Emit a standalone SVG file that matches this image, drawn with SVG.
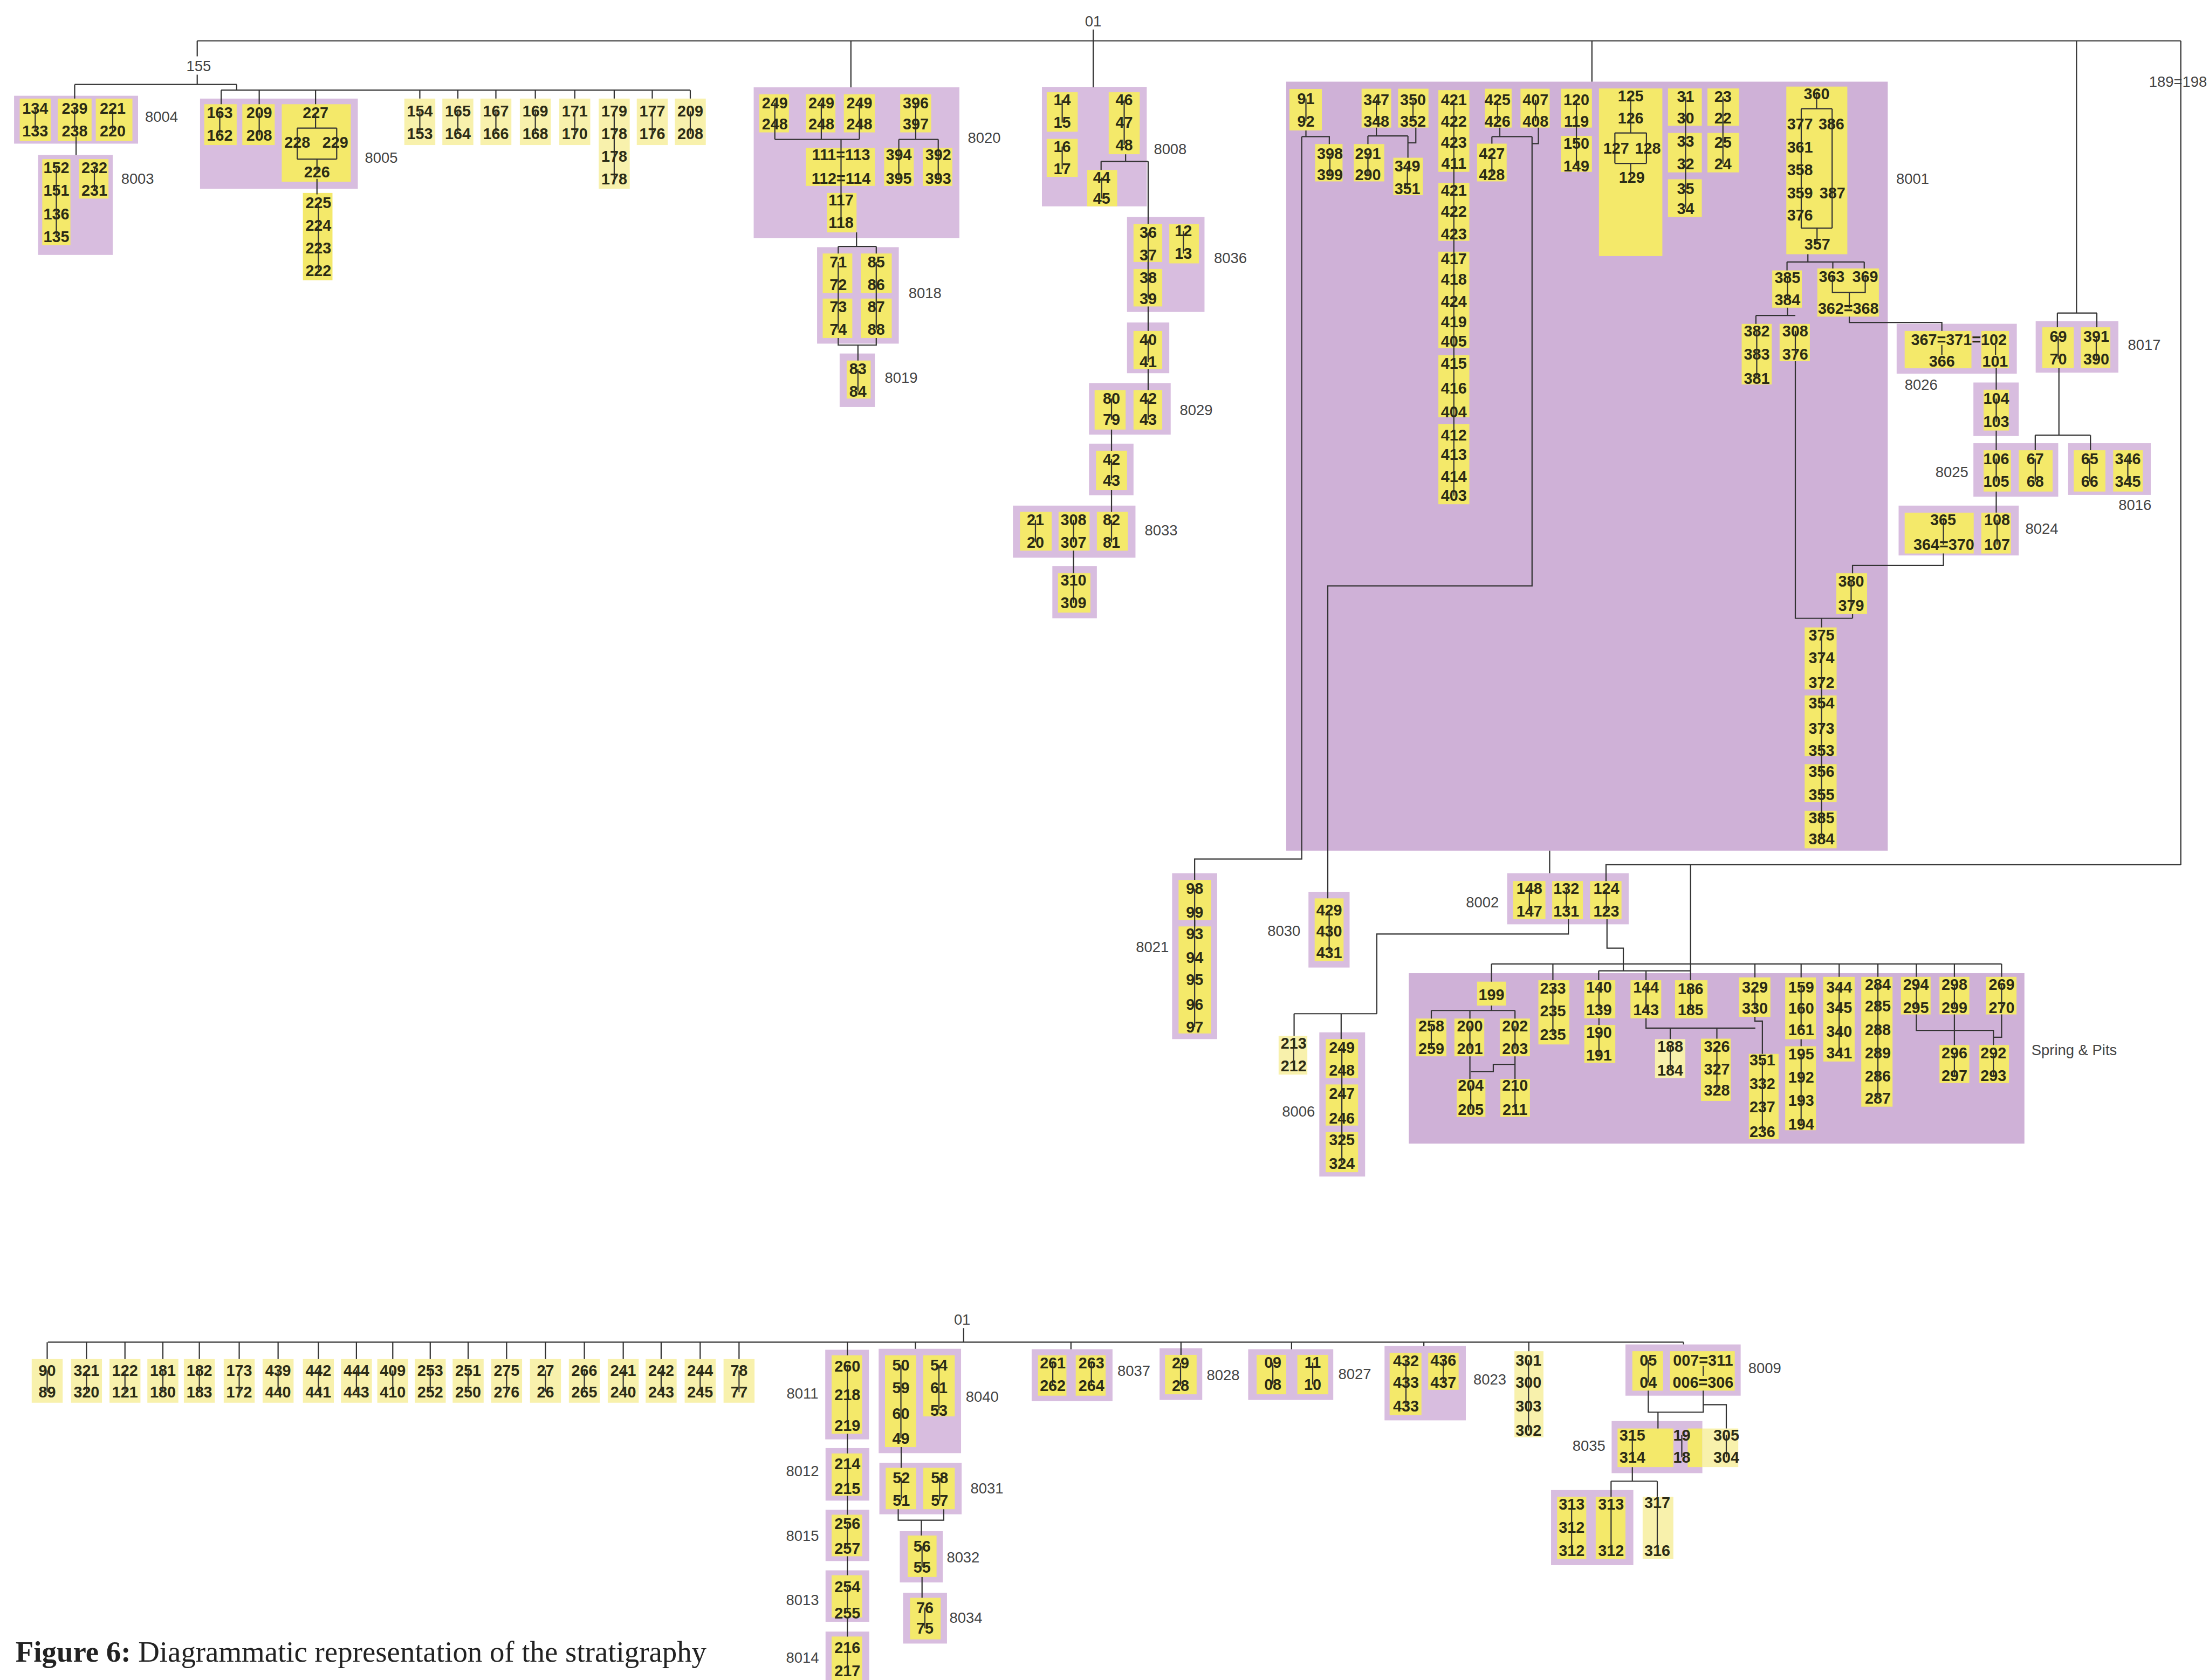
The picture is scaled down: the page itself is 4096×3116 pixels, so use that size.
<svg xmlns="http://www.w3.org/2000/svg" width="4096" height="3116" viewBox="0 0 4096 3116">
<style>
text{font-family:"Liberation Sans",Arial,sans-serif;font-size:11px;font-weight:bold;fill:#2b2b16;text-anchor:middle;dominant-baseline:central}
.l{font-weight:normal;fill:#444;font-size:10.5px;text-anchor:start}
.lm{font-weight:normal;fill:#444;font-size:10.5px}
.p{fill:#d8bddf}
.pb{fill:#cfb1d7}
.y{fill:#f4e96a}
.q{fill:#f8f1ac}
.k,.c{fill:none;stroke:#333;stroke-width:0.85}
.cap{font-family:"Liberation Serif","Times New Roman",serif;font-size:21px;font-weight:normal;text-anchor:start;dominant-baseline:auto;fill:#222}
</style>
<rect width="4096" height="3116" fill="#fff"/>
<g transform="scale(2.6122)">
<g id="h01"><text class="lm" x="776" y="15">01</text></g>
<g id="h155"><text class="lm" x="141" y="47">155</text></g>
<g id="n8004"><rect class="p" x="10" y="68" width="88" height="34"/><rect class="y" x="14" y="70" width="22" height="30"/><rect class="y" x="41" y="70" width="24" height="30"/><rect class="y" x="68" y="70" width="26" height="30"/><path class="k" d="M25 77V93M53 77V93M80 77V93"/><text x="25" y="77">134</text><text x="25" y="93">133</text><text x="53" y="77">239</text><text x="53" y="93">238</text><text x="80" y="77">221</text><text x="80" y="93">220</text><text class="l" x="103" y="83">8004</text></g>
<g id="n8003"><rect class="p" x="27" y="110" width="53" height="71"/><rect class="y" x="30" y="113" width="20" height="61"/><rect class="y" x="56" y="113" width="21" height="28"/><path class="k" d="M40 119V168M67 119V135"/><text x="40" y="119">152</text><text x="40" y="135">151</text><text x="40" y="152">136</text><text x="40" y="168">135</text><text x="67" y="119">232</text><text x="67" y="135">231</text><text class="l" x="86" y="127">8003</text></g>
<g id="n8005"><rect class="p" x="142" y="70" width="112" height="64"/><rect class="y" x="145" y="74" width="23" height="29"/><rect class="y" x="172" y="74" width="23" height="29"/><rect class="y" x="200" y="74" width="49" height="55"/><path class="k" d="M156 80V96M184 80V96M224 80V91M211 91H239M211 91V113M239 91V113M211 113H239M225 113V122"/><text x="156" y="80">163</text><text x="156" y="96">162</text><text x="184" y="80">209</text><text x="184" y="96">208</text><text x="224" y="80">227</text><text x="211" y="101">228</text><text x="238" y="101">229</text><text x="225" y="122">226</text><text class="l" x="259" y="112">8005</text></g>
<g id="c225"><rect class="y" x="215" y="137" width="21" height="62"/><path class="k" d="M226 144V192"/><text x="226" y="144">225</text><text x="226" y="160">224</text><text x="226" y="176">223</text><text x="226" y="192">222</text></g>
<g id="u154"><rect class="q" x="287" y="70" width="22" height="33"/><path class="k" d="M298 79V95"/><text x="298" y="79">154</text><text x="298" y="95">153</text></g>
<g id="u165"><rect class="q" x="314" y="70" width="22" height="33"/><path class="k" d="M325 79V95"/><text x="325" y="79">165</text><text x="325" y="95">164</text></g>
<g id="u167"><rect class="q" x="341" y="70" width="22" height="33"/><path class="k" d="M352 79V95"/><text x="352" y="79">167</text><text x="352" y="95">166</text></g>
<g id="u169"><rect class="q" x="369" y="70" width="22" height="33"/><path class="k" d="M380 79V95"/><text x="380" y="79">169</text><text x="380" y="95">168</text></g>
<g id="u171"><rect class="q" x="397" y="70" width="22" height="33"/><path class="k" d="M408 79V95"/><text x="408" y="79">171</text><text x="408" y="95">170</text></g>
<g id="u179"><rect class="q" x="425" y="70" width="22" height="64"/><path class="k" d="M436 79V127"/><text x="436" y="79">179</text><text x="436" y="95">178</text><text x="436" y="111">178</text><text x="436" y="127">178</text></g>
<g id="u177"><rect class="q" x="452" y="70" width="22" height="33"/><path class="k" d="M463 79V95"/><text x="463" y="79">177</text><text x="463" y="95">176</text></g>
<g id="u209"><rect class="q" x="479" y="70" width="22" height="33"/><path class="k" d="M490 79V95"/><text x="490" y="79">209</text><text x="490" y="95">208</text></g>
<g id="n8020"><rect class="p" x="535" y="62" width="146" height="107"/><rect class="y" x="539" y="67" width="21" height="27"/><rect class="y" x="572" y="67" width="21" height="27"/><rect class="y" x="599" y="67" width="22" height="27"/><rect class="y" x="639" y="67" width="22" height="27"/><rect class="y" x="572" y="105" width="49" height="27"/><rect class="y" x="627.6" y="105" width="21" height="27"/><rect class="y" x="655" y="105" width="21" height="27"/><rect class="y" x="587" y="137" width="21" height="28"/><path class="k" d="M550 73V99M583 73V99M610 73V99M550 99H610M597 99V158M650 73V99M638 99H666M638 99V126.7M666 99V126.7"/><text x="550" y="73">249</text><text x="550" y="88">248</text><text x="583" y="73">249</text><text x="583" y="88">248</text><text x="610" y="73">249</text><text x="610" y="88">248</text><text x="650" y="73">396</text><text x="650" y="88">397</text><text x="597" y="110">111=113</text><text x="597" y="126.7">112=114</text><text x="638" y="110">394</text><text x="638" y="126.7">395</text><text x="666" y="110">392</text><text x="666" y="126.7">393</text><text x="597" y="142">117</text><text x="597" y="158">118</text><text class="l" x="687" y="98">8020</text></g>
<g id="n8018"><rect class="p" x="580" y="175.5" width="58" height="68.5"/><rect class="y" x="584" y="180" width="21" height="28"/><rect class="y" x="584" y="212" width="21" height="28"/><rect class="y" x="611" y="180" width="22" height="28"/><rect class="y" x="611" y="212" width="22" height="28"/><path class="k" d="M595 186V234M622 186V234"/><text x="595" y="186">71</text><text x="595" y="202">72</text><text x="595" y="218">73</text><text x="595" y="234">74</text><text x="622" y="186">85</text><text x="622" y="202">86</text><text x="622" y="218">87</text><text x="622" y="234">88</text><text class="l" x="645" y="208">8018</text></g>
<g id="n8019"><rect class="p" x="596" y="251" width="25" height="38"/><rect class="y" x="601" y="256" width="17" height="27"/><path class="k" d="M609 262V278"/><text x="609" y="262">83</text><text x="609" y="278">84</text><text class="l" x="628" y="268">8019</text></g>
<g id="n8008"><rect class="p" x="739.6" y="61.7" width="74.4" height="84.8"/><rect class="y" x="743" y="65.5" width="22" height="28"/><rect class="y" x="743" y="98.6" width="22" height="27"/><rect class="y" x="787" y="65.5" width="22" height="44"/><rect class="y" x="771.7" y="120.7" width="21.3" height="25.8"/><path class="k" d="M754 71V87M754 104V120M798 71V103M782 126V141"/><text x="754" y="71">14</text><text x="754" y="87">15</text><text x="754" y="104">16</text><text x="754" y="120">17</text><text x="798" y="71">46</text><text x="798" y="87">47</text><text x="798" y="103">48</text><text x="782" y="126">44</text><text x="782" y="141">45</text><text class="l" x="819" y="106">8008</text></g>
<g id="n8036"><rect class="p" x="800" y="154" width="55" height="67.5"/><rect class="y" x="804.6" y="159" width="20.4" height="27"/><rect class="y" x="804.6" y="191" width="20.4" height="26.6"/><rect class="y" x="830" y="159" width="21" height="28"/><path class="k" d="M815 165V212M840 164V180"/><text x="815" y="165">36</text><text x="815" y="181">37</text><text x="815" y="197">38</text><text x="815" y="212">39</text><text x="840" y="164">12</text><text x="840" y="180">13</text><text class="l" x="861.7" y="183">8036</text></g>
<g id="n40"><rect class="p" x="800" y="229" width="30" height="36"/><rect class="y" x="804.6" y="235" width="20.4" height="27"/><path class="k" d="M815 241V257"/><text x="815" y="241">40</text><text x="815" y="257">41</text></g>
<g id="n8029"><rect class="p" x="773" y="272" width="58" height="36.6"/><rect class="y" x="777" y="277" width="22" height="28"/><rect class="y" x="804.6" y="277" width="20.4" height="28"/><path class="k" d="M789 283V298M815 283V298"/><text x="789" y="283">80</text><text x="789" y="298">79</text><text x="815" y="283">42</text><text x="815" y="298">43</text><text class="l" x="837.4" y="291">8029</text></g>
<g id="n42b"><rect class="p" x="773" y="315" width="31.6" height="36.6"/><rect class="y" x="778" y="320" width="22" height="28"/><path class="k" d="M789 326V341"/><text x="789" y="326">42</text><text x="789" y="341">43</text></g>
<g id="n8033"><rect class="p" x="719" y="359" width="87" height="37"/><rect class="y" x="724" y="363.4" width="22.5" height="27.6"/><rect class="y" x="751.4" y="363.4" width="22" height="27.6"/><rect class="y" x="778.6" y="363.4" width="22" height="27.6"/><path class="k" d="M735 369V385M762 369V385M789 369V385"/><text x="735" y="369">21</text><text x="735" y="385">20</text><text x="762" y="369">308</text><text x="762" y="385">307</text><text x="789" y="369">82</text><text x="789" y="385">81</text><text class="l" x="812.5" y="376.6">8033</text></g>
<g id="n310"><rect class="p" x="747" y="402" width="31.6" height="37"/><rect class="y" x="751" y="407" width="23" height="28"/><path class="k" d="M762 412V428"/><text x="762" y="412">310</text><text x="762" y="428">309</text></g>
<g id="n8001"><rect class="pb" x="913" y="58" width="427" height="546"/><text class="l" x="1346" y="127">8001</text>
<rect class="y" x="915.3" y="63.2" width="23" height="29.4"/><rect class="y" x="933.5" y="102.3" width="19.5" height="26.5"/><rect class="y" x="966.5" y="63" width="21" height="27.6"/><rect class="y" x="992.4" y="63" width="21.6" height="27.6"/><rect class="y" x="961" y="102.3" width="21.6" height="26.5"/><rect class="y" x="989" y="112" width="21" height="26.6"/>
<rect class="y" x="1021" y="64" width="22" height="58"/><rect class="y" x="1021" y="129.8" width="22" height="41.2"/><rect class="y" x="1021" y="178.7" width="22" height="68.6"/><rect class="y" x="1021" y="252.2" width="22" height="44.1"/><rect class="y" x="1021" y="301" width="22" height="57"/>
<rect class="y" x="1054" y="63" width="19" height="27.6"/><rect class="y" x="1079.3" y="63" width="20.7" height="27.6"/><rect class="y" x="1048.5" y="102" width="21" height="26.8"/><rect class="y" x="1108" y="63" width="22" height="27.6"/><rect class="y" x="1108" y="96.5" width="22" height="25.5"/>
<rect class="y" x="1135" y="62.8" width="45" height="119"/><rect class="y" x="1184" y="62.8" width="24" height="26.5"/><rect class="y" x="1184" y="94.4" width="24" height="28"/><rect class="y" x="1184" y="127.3" width="24" height="26.7"/><rect class="y" x="1212" y="62.8" width="22.4" height="26.5"/><rect class="y" x="1212" y="94.4" width="22.4" height="28"/>
<rect class="y" x="1268" y="61.5" width="43.3" height="119"/><rect class="y" x="1258" y="192" width="21" height="26.5"/><rect class="y" x="1290" y="190.6" width="43.7" height="34.2"/><rect class="y" x="1236.3" y="230" width="21.3" height="43"/><rect class="y" x="1263.2" y="230" width="21.5" height="26.5"/><rect class="y" x="1303.5" y="407" width="21.8" height="29"/>
<rect class="y" x="1281" y="445.5" width="22.7" height="44"/><rect class="y" x="1281" y="493.8" width="22.7" height="43"/><rect class="y" x="1281" y="542.6" width="22.7" height="27"/><rect class="y" x="1281" y="575.7" width="22.7" height="26.6"/>
<path class="k" d="M927 70V86M944 109V124M977 71V86M1003 71V86M971 109V124M999 118V134M1032 71V352M1063 71V86M1090 71V86M1059 109V124M1119 71V118M1157.5 68V94.4M1146.3 94.4H1168.7M1146.3 94.4V116M1168.7 94.4V116M1146.3 116H1168.7M1157.5 116V126M1196.5 68.6V148.3M1223 68.6V116.4M1289.5 66.6V77.2M1278.6 77.2H1300.5M1278.6 77.2V162M1300.5 77.2V162M1278.6 162H1300.5M1289.8 162V173.4M1268.8 197V213M1300.7 196.4V207.6H1324V196.4M1312.7 207.6V219M1247 235V268.6M1274.4 235V251.4M1314 412.6V430M1293 451V595.7"/>
<text x="927" y="70">91</text><text x="927" y="86">92</text><text x="944" y="109">398</text><text x="944" y="124">399</text><text x="977" y="71">347</text><text x="977" y="86">348</text><text x="1003" y="71">350</text><text x="1003" y="86">352</text><text x="971" y="109">291</text><text x="971" y="124">290</text><text x="999" y="118">349</text><text x="999" y="134">351</text>
<text x="1032" y="71">421</text><text x="1032" y="86">422</text><text x="1032" y="101">423</text><text x="1032" y="116">411</text><text x="1032" y="135">421</text><text x="1032" y="150">422</text><text x="1032" y="166">423</text><text x="1032" y="183.6">417</text><text x="1032" y="198.3">418</text><text x="1032" y="214">424</text><text x="1032" y="228.7">419</text><text x="1032" y="242.4">405</text><text x="1032" y="258">415</text><text x="1032" y="275.7">416</text><text x="1032" y="292.4">404</text><text x="1032" y="309">412</text><text x="1032" y="322.7">413</text><text x="1032" y="338.4">414</text><text x="1032" y="352">403</text>
<text x="1063" y="71">425</text><text x="1063" y="86">426</text><text x="1090" y="71">407</text><text x="1090" y="86">408</text><text x="1059" y="109">427</text><text x="1059" y="124">428</text><text x="1119" y="71">120</text><text x="1119" y="86">119</text><text x="1119" y="102">150</text><text x="1119" y="118">149</text>
<text x="1157.5" y="68">125</text><text x="1157.5" y="84">126</text><text x="1147.2" y="105.3">127</text><text x="1169.7" y="105.3">128</text><text x="1158.3" y="126">129</text>
<text x="1196.5" y="68.6">31</text><text x="1196.5" y="83.8">30</text><text x="1196.5" y="100.2">33</text><text x="1196.5" y="116.4">32</text><text x="1196.5" y="134">35</text><text x="1196.5" y="148.3">34</text><text x="1223" y="68.6">23</text><text x="1223" y="83.8">22</text><text x="1223" y="101.2">25</text><text x="1223" y="116.4">24</text>
<text x="1289.5" y="66.6">360</text><text x="1277.7" y="88">377</text><text x="1300" y="88">386</text><text x="1277.7" y="104.5">361</text><text x="1277.7" y="120.5">358</text><text x="1277.7" y="137">359</text><text x="1300.7" y="137">387</text><text x="1277.7" y="152.6">376</text><text x="1290" y="173.4">357</text>
<text x="1268.8" y="197">385</text><text x="1268.8" y="213">384</text><text x="1300.2" y="196.4">363</text><text x="1324" y="196.4">369</text><text x="1312" y="219">362=368</text>
<text x="1247" y="235">382</text><text x="1247" y="251.4">383</text><text x="1247" y="268.6">381</text><text x="1274.3" y="235">308</text><text x="1274.3" y="251.4">376</text>
<text x="1314" y="412.6">380</text><text x="1314" y="430">379</text>
<text x="1293" y="451">375</text><text x="1293" y="467">374</text><text x="1293" y="484.5">372</text><text x="1293" y="499.2">354</text><text x="1293" y="517">373</text><text x="1293" y="532.8">353</text><text x="1293" y="548">356</text><text x="1293" y="564.3">355</text><text x="1293" y="580.6">385</text><text x="1293" y="595.7">384</text></g>
<g id="n8026"><rect class="p" x="1346.3" y="229.9" width="85.3" height="35.4"/><rect class="y" x="1352" y="235" width="47.4" height="26.5"/><rect class="y" x="1406.4" y="235" width="19.6" height="26.5"/><path class="k" d="M1378.4 245V252M1416.5 245V252"/><text x="1390.5" y="241">367=371=102</text><text x="1378.4" y="256.5">366</text><text x="1416.2" y="256.5">101</text><text class="l" x="1352" y="273">8026</text></g>
<g id="n104"><rect class="p" x="1400.8" y="271.6" width="32.2" height="38"/><rect class="y" x="1408" y="276.7" width="18" height="29"/><path class="k" d="M1417 283V299.5"/><text x="1417" y="283">104</text><text x="1417" y="299.5">103</text></g>
<g id="n8025"><rect class="p" x="1400.8" y="314.7" width="60.2" height="38"/><rect class="y" x="1408" y="319.7" width="19.4" height="29.3"/><rect class="y" x="1433" y="319.7" width="24" height="29.3"/><path class="k" d="M1417 325.6V342M1444.7 325.6V342"/><text x="1417" y="325.6">106</text><text x="1417" y="342">105</text><text x="1444.7" y="325.6">67</text><text x="1444.7" y="342">68</text><text class="lm" x="1385.5" y="335">8025</text></g>
<g id="n8016"><rect class="p" x="1468" y="314.7" width="58.7" height="36.7"/><rect class="y" x="1472" y="319.7" width="22.5" height="29.3"/><rect class="y" x="1500" y="319.7" width="21" height="29.3"/><path class="k" d="M1483.3 325.6V342M1510.4 325.6V342"/><text x="1483.3" y="325.6">65</text><text x="1483.3" y="342">66</text><text x="1510.4" y="325.6">346</text><text x="1510.4" y="342">345</text><text class="lm" x="1515.5" y="358.5">8016</text></g>
<g id="n8017"><rect class="p" x="1445" y="228" width="58.7" height="36.6"/><rect class="y" x="1449.7" y="232.4" width="22.3" height="29"/><rect class="y" x="1477" y="232.4" width="21" height="29"/><path class="k" d="M1461 238.7V255M1488 238.7V255"/><text x="1461" y="238.7">69</text><text x="1461" y="255">70</text><text x="1488" y="238.7">391</text><text x="1488" y="255">390</text><text class="l" x="1510.4" y="245">8017</text></g>
<g id="n8024"><rect class="p" x="1347.7" y="359" width="85.3" height="35.4"/><rect class="y" x="1352" y="364" width="49" height="29"/><rect class="y" x="1406.4" y="364" width="21" height="29"/><path class="k" d="M1379.5 369V386.8M1417.6 369V386.8"/><text x="1379.3" y="369">365</text><text x="1379.8" y="386.8">364=370</text><text x="1417.6" y="369">108</text><text x="1417.6" y="386.8">107</text><text class="l" x="1437.7" y="375.5">8024</text></g>
<g id="h189"><text class="lm" x="1546" y="58">189=198</text></g>
<g id="n8021"><rect class="p" x="832" y="620" width="32" height="117.8"/><rect class="y" x="836.6" y="624.8" width="23.1" height="28.4"/><rect class="y" x="836.6" y="657.8" width="23.1" height="76"/><path class="k" d="M848 631V729.3"/><text x="848" y="631">98</text><text x="848" y="647.8">99</text><text x="848" y="663.2">93</text><text x="848" y="680">94</text><text x="848" y="695.5">95</text><text x="848" y="713.2">96</text><text x="848" y="729.3">97</text><text class="lm" x="818" y="672.4">8021</text></g>
<g id="n8030"><rect class="p" x="928.8" y="633.2" width="29.2" height="53.8"/><rect class="y" x="933.2" y="637.9" width="20.5" height="44.5"/><path class="k" d="M943.5 646.3V676.3"/><text x="943.5" y="646.3">429</text><text x="943.5" y="661">430</text><text x="943.5" y="676.3">431</text><text class="lm" x="911.4" y="661">8030</text></g>
<g id="n8002"><rect class="p" x="1069.8" y="620" width="86.3" height="36.3"/><rect class="y" x="1074" y="625.6" width="23" height="27"/><rect class="y" x="1101.8" y="625.6" width="21.8" height="27"/><rect class="y" x="1128.7" y="625.6" width="22.3" height="27"/><path class="k" d="M1085.6 631V647M1111.8 631V647M1140.2 631V647"/><text x="1085.6" y="631">148</text><text x="1085.6" y="647">147</text><text x="1111.8" y="631">132</text><text x="1111.8" y="647">131</text><text x="1140.2" y="631">124</text><text x="1140.2" y="647">123</text><text class="lm" x="1052.3" y="640.5">8002</text></g>
<g id="n213"><rect class="q" x="907.6" y="735.5" width="20.4" height="27.5"/><path class="k" d="M918.3 740.8V757"/><text x="918.3" y="740.8">213</text><text x="918.3" y="757">212</text></g>
<g id="n8006"><rect class="p" x="936.5" y="733" width="32.5" height="102.4"/><rect class="y" x="941" y="737.8" width="23" height="27.6"/><rect class="y" x="941" y="770" width="23" height="29.2"/><rect class="y" x="941" y="803.8" width="23" height="28.5"/><path class="k" d="M952.5 744V826"/><text x="952.5" y="744">249</text><text x="952.5" y="760">248</text><text x="952.5" y="776.2">247</text><text x="952.5" y="793.9">246</text><text x="952.5" y="809.2">325</text><text x="952.5" y="826">324</text><text class="lm" x="921.7" y="789.3">8006</text></g>
<g id="nSpring"><rect class="pb" x="1000" y="691" width="437" height="121"/>
<rect class="y" x="1048.5" y="697" width="20.5" height="17"/><rect class="y" x="1005" y="723.2" width="21.7" height="26.8"/><rect class="y" x="1032.4" y="723.2" width="21.2" height="26.8"/><rect class="y" x="1064.6" y="723.2" width="21.4" height="26.8"/><rect class="y" x="1034" y="766.2" width="20.4" height="26.8"/><rect class="y" x="1065" y="766.2" width="21" height="26.8"/><rect class="y" x="1092" y="696" width="22" height="45.6"/><rect class="y" x="1124.6" y="696" width="22" height="27"/><rect class="y" x="1124.6" y="727.8" width="22" height="26.9"/><rect class="y" x="1157.4" y="696" width="21.8" height="27"/><rect class="q" x="1174.8" y="737.8" width="21.5" height="27.6"/><rect class="y" x="1189" y="696" width="23" height="27"/><rect class="y" x="1207.4" y="737.5" width="21.1" height="44.2"/><rect class="y" x="1234.4" y="694" width="22.3" height="28"/><rect class="y" x="1241.4" y="748.3" width="21.1" height="60.6"/><rect class="y" x="1267.2" y="694" width="21.8" height="43.9"/><rect class="y" x="1267.2" y="742.9" width="21.8" height="59.6"/><rect class="y" x="1294.2" y="693.6" width="22.3" height="60.1"/><rect class="y" x="1321.2" y="693.6" width="22.2" height="92.2"/><rect class="y" x="1349.3" y="693.6" width="21.1" height="26.7"/><rect class="y" x="1376.7" y="693.6" width="21.2" height="26.7"/><rect class="y" x="1409.6" y="693.6" width="21.8" height="26.7"/><rect class="y" x="1376.7" y="742" width="21.2" height="27"/><rect class="y" x="1405" y="742" width="21" height="27"/>
<path class="k" d="M1016 728.5V744.7M1043.4 728.5V744.7M1075.4 728.5V744.7M1044 770.8V787.7M1075.4 770.8V787.7M1102.3 701.6V734.7M1135 700.9V717M1135 733V749.3M1168.4 700.9V717M1185.6 743V760M1200 702V717M1218.7 743V774M1245.7 700.8V715.8M1251 752.8V803.4M1278.5 700.8V731.1M1278.5 748.3V798M1305.5 700.8V747.8M1333 699V779.9M1360.3 699V715.3M1387.3 699V715.3M1420.8 699V715.3M1387.3 747.8V763.7M1415 747.8V763.7"/>
<text x="1058.7" y="706.3">199</text><text x="1016" y="728.5">258</text><text x="1016" y="744.7">259</text><text x="1043.4" y="728.5">200</text><text x="1043.4" y="744.7">201</text><text x="1075.4" y="728.5">202</text><text x="1075.4" y="744.7">203</text><text x="1044" y="770.8">204</text><text x="1044" y="787.7">205</text><text x="1075.4" y="770.8">210</text><text x="1075.4" y="787.7">211</text>
<text x="1102.3" y="701.6">233</text><text x="1102.3" y="717.8">235</text><text x="1102.3" y="734.7">235</text><text x="1135" y="700.9">140</text><text x="1135" y="717">139</text><text x="1135" y="733">190</text><text x="1135" y="749.3">191</text><text x="1168.4" y="700.9">144</text><text x="1168.4" y="717">143</text><text x="1185.6" y="743">188</text><text x="1185.6" y="760">184</text><text x="1200" y="702">186</text><text x="1200" y="717">185</text>
<text x="1218.7" y="743">326</text><text x="1218.7" y="759.2">327</text><text x="1218.7" y="774">328</text><text x="1245.7" y="700.8">329</text><text x="1245.7" y="715.8">330</text><text x="1251" y="752.8">351</text><text x="1251" y="769.5">332</text><text x="1251" y="785.8">237</text><text x="1251" y="803.4">236</text>
<text x="1278.5" y="700.8">159</text><text x="1278.5" y="715.8">160</text><text x="1278.5" y="731.1">161</text><text x="1278.5" y="748.3">195</text><text x="1278.5" y="765">192</text><text x="1278.5" y="781.3">193</text><text x="1278.5" y="798">194</text>
<text x="1305.5" y="700.8">344</text><text x="1305.5" y="715.3">345</text><text x="1305.5" y="732.5">340</text><text x="1305.5" y="747.8">341</text><text x="1333" y="699">284</text><text x="1333" y="714.4">285</text><text x="1333" y="731.1">288</text><text x="1333" y="747.8">289</text><text x="1333" y="764.1">286</text><text x="1333" y="779.9">287</text>
<text x="1360" y="699">294</text><text x="1360" y="715.3">295</text><text x="1387.3" y="699">298</text><text x="1387.3" y="715.3">299</text><text x="1420.8" y="699">269</text><text x="1420.8" y="715.3">270</text><text x="1387.3" y="747.8">296</text><text x="1387.3" y="763.7">297</text><text x="1415" y="747.8">292</text><text x="1415" y="763.7">293</text>
<text class="l" x="1442" y="745.6">Spring &amp; Pits</text></g>
<g id="h01b"><text class="lm" x="683" y="937">01</text></g>
<g id="b90"><rect class="q" x="22.5" y="965" width="22" height="31"/><path class="k" d="M33.5 973V988.5"/><text x="33.5" y="973">90</text><text x="33.5" y="988.5">89</text></g>
<g id="b321"><rect class="q" x="50.4" y="965" width="22" height="31"/><path class="k" d="M61.4 973V988.5"/><text x="61.4" y="973">321</text><text x="61.4" y="988.5">320</text></g>
<g id="b122"><rect class="q" x="77.7" y="965" width="22" height="31"/><path class="k" d="M88.7 973V988.5"/><text x="88.7" y="973">122</text><text x="88.7" y="988.5">121</text></g>
<g id="b181"><rect class="q" x="104.6" y="965" width="22" height="31"/><path class="k" d="M115.6 973V988.5"/><text x="115.6" y="973">181</text><text x="115.6" y="988.5">180</text></g>
<g id="b182"><rect class="q" x="130.5" y="965" width="22" height="31"/><path class="k" d="M141.5 973V988.5"/><text x="141.5" y="973">182</text><text x="141.5" y="988.5">183</text></g>
<g id="b173"><rect class="q" x="158.8" y="965" width="22" height="31"/><path class="k" d="M169.8 973V988.5"/><text x="169.8" y="973">173</text><text x="169.8" y="988.5">172</text></g>
<g id="b439"><rect class="q" x="186.4" y="965" width="22" height="31"/><path class="k" d="M197.4 973V988.5"/><text x="197.4" y="973">439</text><text x="197.4" y="988.5">440</text></g>
<g id="b442"><rect class="q" x="215" y="965" width="22" height="31"/><path class="k" d="M226 973V988.5"/><text x="226" y="973">442</text><text x="226" y="988.5">441</text></g>
<g id="b444"><rect class="q" x="242" y="965" width="22" height="31"/><path class="k" d="M253 973V988.5"/><text x="253" y="973">444</text><text x="253" y="988.5">443</text></g>
<g id="b409"><rect class="q" x="267.8" y="965" width="22" height="31"/><path class="k" d="M278.8 973V988.5"/><text x="278.8" y="973">409</text><text x="278.8" y="988.5">410</text></g>
<g id="b253"><rect class="q" x="294.4" y="965" width="22" height="31"/><path class="k" d="M305.4 973V988.5"/><text x="305.4" y="973">253</text><text x="305.4" y="988.5">252</text></g>
<g id="b251"><rect class="q" x="321.3" y="965" width="22" height="31"/><path class="k" d="M332.3 973V988.5"/><text x="332.3" y="973">251</text><text x="332.3" y="988.5">250</text></g>
<g id="b275"><rect class="q" x="348.6" y="965" width="22" height="31"/><path class="k" d="M359.6 973V988.5"/><text x="359.6" y="973">275</text><text x="359.6" y="988.5">276</text></g>
<g id="b27"><rect class="q" x="376.2" y="965" width="22" height="31"/><path class="k" d="M387.2 973V988.5"/><text x="387.2" y="973">27</text><text x="387.2" y="988.5">26</text></g>
<g id="b266"><rect class="q" x="403.8" y="965" width="22" height="31"/><path class="k" d="M414.8 973V988.5"/><text x="414.8" y="973">266</text><text x="414.8" y="988.5">265</text></g>
<g id="b241"><rect class="q" x="431.4" y="965" width="22" height="31"/><path class="k" d="M442.4 973V988.5"/><text x="442.4" y="973">241</text><text x="442.4" y="988.5">240</text></g>
<g id="b242"><rect class="q" x="458.3" y="965" width="22" height="31"/><path class="k" d="M469.3 973V988.5"/><text x="469.3" y="973">242</text><text x="469.3" y="988.5">243</text></g>
<g id="b244"><rect class="q" x="486" y="965" width="22" height="31"/><path class="k" d="M497 973V988.5"/><text x="497" y="973">244</text><text x="497" y="988.5">245</text></g>
<g id="b78"><rect class="q" x="513.6" y="965" width="22" height="31"/><path class="k" d="M524.6 973V988.5"/><text x="524.6" y="973">78</text><text x="524.6" y="988.5">77</text></g>
<g id="n8011"><rect class="p" x="585.8" y="958.4" width="31" height="63.6"/><rect class="y" x="590.3" y="962.3" width="21.7" height="55.7"/><path class="k" d="M601.5 970V1012"/><text x="601.5" y="970">260</text><text x="601.5" y="990.2">218</text><text x="601.5" y="1012">219</text><text class="lm" x="569.6" y="989.5">8011</text></g>
<g id="n8012"><rect class="p" x="586" y="1028.2" width="31" height="37.3"/><rect class="y" x="590.3" y="1032" width="21.7" height="30"/><path class="k" d="M601.5 1039.5V1057"/><text x="601.5" y="1039.5">214</text><text x="601.5" y="1057">215</text><text class="lm" x="569.6" y="1044.5">8012</text></g>
<g id="n8015"><rect class="p" x="586" y="1072" width="31" height="36.4"/><rect class="y" x="590.3" y="1075.5" width="21.7" height="29.5"/><path class="k" d="M601.5 1081.7V1099.6"/><text x="601.5" y="1081.7">256</text><text x="601.5" y="1099.6">257</text><text class="lm" x="569.6" y="1090.3">8015</text></g>
<g id="n8013"><rect class="p" x="586" y="1115" width="31" height="36.5"/><rect class="y" x="590.3" y="1118.5" width="21.7" height="30"/><path class="k" d="M601.5 1126.7V1145.3"/><text x="601.5" y="1126.7">254</text><text x="601.5" y="1145.3">255</text><text class="lm" x="569.6" y="1136">8013</text></g>
<g id="n8014"><rect class="p" x="586" y="1158.5" width="31" height="34.5"/><rect class="y" x="590.3" y="1162" width="21.7" height="31"/><path class="k" d="M601.5 1169.8V1186.4"/><text x="601.5" y="1169.8">216</text><text x="601.5" y="1186.4">217</text><text class="lm" x="569.6" y="1176.8">8014</text></g>
<g id="n8040"><rect class="p" x="623.7" y="957.7" width="58.5" height="74.1"/><rect class="y" x="628.2" y="962.3" width="22.1" height="65.2"/><rect class="y" x="655.4" y="962.3" width="22.3" height="43.4"/><path class="k" d="M639.5 969.3V1021.3M666.5 969.3V1001.4"/><text x="639.5" y="969.3">50</text><text x="639.5" y="985.3">59</text><text x="639.5" y="1003.9">60</text><text x="639.5" y="1021.3">49</text><text x="666.5" y="969.3">54</text><text x="666.5" y="985.3">61</text><text x="666.5" y="1001.4">53</text><text class="l" x="685.5" y="991.8">8040</text></g>
<g id="n8031"><rect class="p" x="624.2" y="1038.6" width="58.4" height="36.6"/><rect class="y" x="628.7" y="1042.2" width="21.6" height="29.4"/><rect class="y" x="655.4" y="1042.2" width="22.3" height="29.4"/><path class="k" d="M639.8 1049.2V1065.5M667 1049.2V1065.5"/><text x="639.8" y="1049.2">52</text><text x="639.8" y="1065.5">51</text><text x="667" y="1049.2">58</text><text x="667" y="1065.5">57</text><text class="l" x="688.9" y="1056.9">8031</text></g>
<g id="n8032"><rect class="p" x="638.7" y="1087.2" width="30.5" height="36.4"/><rect class="y" x="644.3" y="1090.3" width="20.5" height="29.4"/><path class="k" d="M654.5 1098V1112.8"/><text x="654.5" y="1098">56</text><text x="654.5" y="1112.8">55</text><text class="l" x="672" y="1105.8">8032</text></g>
<g id="n8034"><rect class="p" x="641" y="1131" width="31.2" height="36"/><rect class="y" x="646" y="1134.5" width="21.7" height="29.5"/><path class="k" d="M656.5 1141.4V1156.2"/><text x="656.5" y="1141.4">76</text><text x="656.5" y="1156.2">75</text><text class="l" x="674" y="1148.7">8034</text></g>
<g id="n8037"><rect class="p" x="732.3" y="958" width="57.4" height="36.9"/><rect class="y" x="736.8" y="962.3" width="20.2" height="28.7"/><rect class="y" x="763.6" y="962.3" width="21.2" height="28.7"/><path class="k" d="M747.3 967.7V984M774.7 967.7V984"/><text x="747.3" y="967.7">261</text><text x="747.3" y="984">262</text><text x="774.7" y="967.7">263</text><text x="774.7" y="984">264</text><text class="l" x="793.2" y="973.2">8037</text></g>
<g id="n8028"><rect class="p" x="823.1" y="957.3" width="30.3" height="36.7"/><rect class="y" x="827" y="962" width="22.4" height="28"/><path class="k" d="M838 967.7V984"/><text x="838" y="967.7">29</text><text x="838" y="984">28</text><text class="l" x="856.6" y="976.3">8028</text></g>
<g id="n8027"><rect class="p" x="886" y="958" width="60.4" height="36"/><rect class="y" x="892" y="962" width="21" height="28"/><rect class="y" x="920.9" y="962" width="21.9" height="28"/><path class="k" d="M903.5 967.5V983M931.8 967.5V983"/><text x="903.5" y="967.5">09</text><text x="903.5" y="983">08</text><text x="931.8" y="967.5">11</text><text x="931.8" y="983">10</text><text class="l" x="950" y="975.7">8027</text></g>
<g id="n8023"><rect class="p" x="982.8" y="955.7" width="57.7" height="52.8"/><rect class="y" x="986.4" y="960.5" width="22.6" height="44.3"/><rect class="y" x="1013.8" y="960.5" width="21.6" height="26.3"/><path class="k" d="M998 966.3V998.4M1024.5 965.7V981.6"/><text x="998" y="966.3">432</text><text x="998" y="981.6">433</text><text x="998" y="998.4">433</text><text x="1024.5" y="965.7">436</text><text x="1024.5" y="981.6">437</text><text class="l" x="1045.9" y="979.4">8023</text></g>
<g id="n301"><rect class="q" x="1075" y="959.4" width="20.6" height="61.2"/><path class="k" d="M1085 965.7V1015.8"/><text x="1085" y="965.7">301</text><text x="1085" y="981.6">300</text><text x="1085" y="998.4">303</text><text x="1085" y="1015.8">302</text></g>
<g id="n8009"><rect class="p" x="1153.8" y="954.6" width="81.8" height="36.4"/><rect class="y" x="1158.7" y="959.4" width="21.8" height="28"/><rect class="y" x="1185.4" y="959.4" width="46" height="28"/><path class="k" d="M1170 965.7V981.6M1209 970V977"/><text x="1170" y="965.7">05</text><text x="1170" y="981.6">04</text><text x="1208.9" y="965.7">007=311</text><text x="1208.9" y="981.6">006=306</text><text class="l" x="1241" y="971.5">8009</text></g>
<g id="n8035"><rect class="p" x="1144" y="1009" width="64.4" height="37"/><rect class="y" x="1148.2" y="1014.3" width="39.6" height="27.4"/><rect class="y" x="1198" y="1014.3" width="10.4" height="27.4"/><rect class="q" x="1208.4" y="1014.3" width="25.5" height="27.4"/><path class="k" d="M1158.7 1019V1034.8M1193.8 1019V1034.8M1225.4 1019V1034.8"/><text x="1158.7" y="1019">315</text><text x="1158.7" y="1034.8">314</text><text x="1193.8" y="1019">19</text><text x="1193.8" y="1034.8">18</text><text x="1225.4" y="1019">305</text><text x="1225.4" y="1034.8">304</text><text class="l" x="1116.2" y="1026.4">8035</text></g>
<g id="n313"><rect class="p" x="1101" y="1058" width="58.4" height="53.3"/><rect class="y" x="1105.3" y="1062.8" width="20.7" height="44.2"/><rect class="y" x="1132.7" y="1062.8" width="21.1" height="44.2"/><rect class="q" x="1166" y="1062.8" width="21.8" height="44.2"/><path class="k" d="M1115.6 1068V1100.8M1143.6 1068V1100.8M1176.4 1067V1100.8"/><text x="1115.6" y="1068">313</text><text x="1115.6" y="1084.4">312</text><text x="1115.6" y="1100.8">312</text><text x="1143.6" y="1068">313</text><text x="1143.6" y="1100.8">312</text><text x="1176.4" y="1067">317</text><text x="1176.4" y="1100.8">316</text></g>
<g id="caption"><text class="cap" x="11" y="1180"><tspan font-weight="bold">Figure 6:</tspan> Diagrammatic representation of the stratigraphy</text></g>
<g id="connectors">
<path class="c" d="M140 29H1548M140 29V40M604 29V62M776 21V62M1130 29V58M1474 29V222.3M1548 29V614"/>
<path class="c" d="M140 53V60M53 60H168M53 60V70M168 60V64M157 64H490M157 64V74M184 64V74M224 64V74M298 64V70M325 64V70M352 64V70M380 64V70M408 64V70M436 64V70M463 64V70M490 64V70"/>
<path class="c" d="M54 97V110M225 127V138"/>
<path class="c" d="M608 165V175M595 175H622M595 175V180M622 175V180M595 240V245H622V240M609 245V256"/>
<path class="c" d="M799 109.6V114.6M781.6 114.6H815M781.6 114.6V120.7M815 114.6V159M815 186V191M815 217.6V235M815 262V277M789 305V320M789 348V363.4M762 391V407"/>
<path class="c" d="M927 92.6V97M924 97H943.6V102.3M924 97V610H848V624.8M977 90.6V96.5M971 96.5H999.4M971 96.5V102.3M999.4 96.5V112M1005 90.6V101.4H999.4M1064.6 90.6V97M1059 97H1087.5M1059 97V102M1092 90.6V102H1087.5M1087.5 97V416H942.5V637.9"/>
<path class="c" d="M1283.3 180.5V186M1268.5 186H1323.3M1268.5 186V192M1301 186V190.6M1323.3 186V190.6M1312.7 224.8V229H1378.4V235M1268.8 218.5V224M1246.4 224H1274.4M1246.4 224V230M1274.4 256.5V439H1315M1293 439V445.5M1315 436V439M1417 261.5V276.7M1417 305.8V319.7M1417 349V364M1379.5 393V401.5H1315V407"/>
<path class="c" d="M1460.4 222.3H1488.4M1460.4 222.3V232.4M1488.4 222.3V232.4M1461.5 261.5V309M1444.7 309H1483.9M1444.7 309V319.7M1483.9 309V319.7"/>
<path class="c" d="M1548 614H1140V625.6M1200 614V696M1100 604V620M1113.3 652.6V663.2H977.3V719.8M918.6 719.8H977.3M918.6 719.8V735.5M952 719.8V737.8M1140.7 652.6V673.2H1152.3V689.3M1134.8 689.3H1200M1134.8 689.3V696M1168.4 689.3V696"/>
<path class="c" d="M1058.7 684.4H1420.8M1058.7 684.4V697M1102.3 684.4V696M1245.7 684.4V694M1278.5 684.4V694M1305.5 684.4V693.6M1333 684.4V693.6M1360.3 684.4V693.6M1387.3 684.4V693.6M1420.8 684.4V693.6"/>
<path class="c" d="M1058.7 714V717.5M1016 717.5H1075.4M1016 717.5V723.2M1043.4 717.5V723.2M1075.4 717.5V723.2M1043.4 750V766.2M1044 760.8H1060V755.7H1075.4M1075.4 750V766.2M1135 723V727.8M1168.4 723V730H1246M1185.6 730V737.8M1218.7 730V737.5M1245.7 722V725H1251V748.3M1278.5 737.9V742.9M1360.3 720.3V731.6H1415V742M1387.3 720.3V742M1420.8 720.3V736.5H1415M848 653.2V657.8"/>
<path class="c" d="M684 943V953M34 953H1195M33.5 953V965M61.4 953V965M88.7 953V965M115.6 953V965M141.5 953V965M169.8 953V965M197.4 953V965M226 953V965M253 953V965M278.8 953V965M305.4 953V965M332.3 953V965M359.6 953V965M387.2 953V965M414.8 953V965M442.4 953V965M469.3 953V965M497 953V965M524.6 953V965"/>
<path class="c" d="M601.5 953V962.3M601.5 1018V1032M601.5 1062V1075.5M601.5 1105V1118.5M601.5 1148.5V1162M649.8 953V957.7M639.7 1027.5V1042.2M637.6 1071.6V1079.4H669.9V1071.6M654 1079.4V1090.3M654.5 1119.7V1134.5M760.2 953V958M838.3 953V962M916.8 953V958M1010.7 953V955.7M1085.2 953V959.4M1195 953V954.6"/>
<path class="c" d="M1170 987.4V1002.7H1209V987.4M1209 997.4H1225.4V1014.3M1176.9 1002.7V1014.3M1158.7 1041.7V1051.7M1143.6 1051.7H1176.4M1143.6 1051.7V1062.8M1176.4 1051.7V1062.8"/>
</g>
</g>
</svg>
